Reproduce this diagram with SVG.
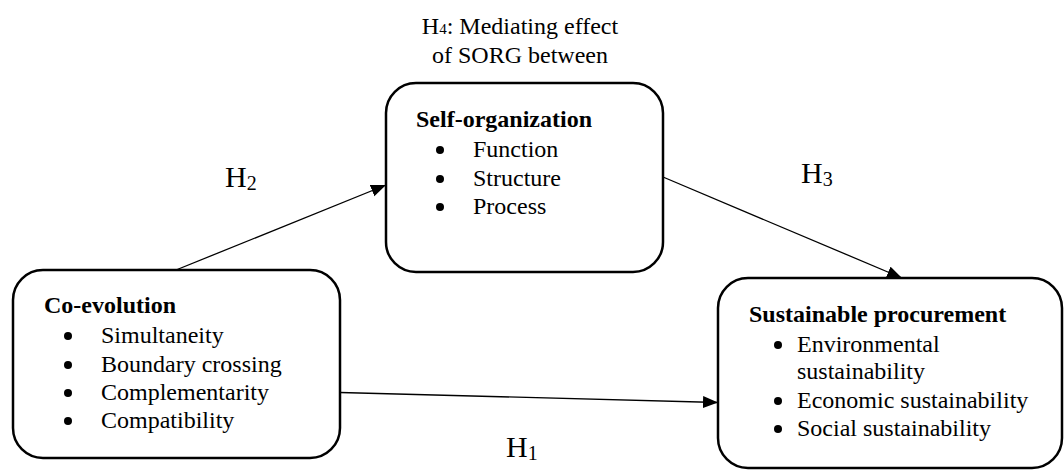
<svg xmlns="http://www.w3.org/2000/svg" width="1064" height="470" viewBox="0 0 1064 470" font-family="'Liberation Serif', 'Times New Roman', serif">
  <style>
    .box { fill: #ffffff; stroke: #000000; stroke-width: 2.5; }
    .txt { font-family: "Liberation Serif", "Times New Roman", serif; font-size: 24px; fill: #000000; }
    .bold { font-weight: bold; }
    .hyp { font-family: "Liberation Serif", "Times New Roman", serif; font-size: 30px; fill: #000000; }
    .bul { fill: #000000; }
    .conn { stroke: #000000; stroke-width: 1.3; fill: none; marker-end: url(#arr); }
  </style>
  <defs>
    <marker id="arr" markerUnits="userSpaceOnUse" markerWidth="16" markerHeight="13" refX="15" refY="6" orient="auto">
      <path d="M0,0 L15,6 L0,12 z" fill="#000000"/>
    </marker>
  </defs>
  <rect width="1064" height="470" fill="#ffffff"/>

  <g id="label-h4">
    <text class="txt" x="520" y="34" text-anchor="middle">H<tspan font-size="15">4</tspan>: Mediating effect</text>
    <text class="txt" x="520" y="63" text-anchor="middle">of SORG between</text>
  </g>

  <g id="connectors">
    <line class="conn" x1="176" y1="270" x2="386" y2="185"/>
    <line class="conn" x1="663" y1="177" x2="902" y2="278"/>
    <line class="conn" x1="340" y1="392.5" x2="718" y2="402.5"/>
  </g>

  <g id="label-h2">
    <text class="hyp" x="225" y="187">H<tspan font-size="20" dy="3">2</tspan></text>
  </g>
  <g id="label-h3">
    <text class="hyp" x="801" y="183">H<tspan font-size="20" dy="3">3</tspan></text>
  </g>
  <g id="label-h1">
    <text class="hyp" x="506" y="457">H<tspan font-size="20" dy="3">1</tspan></text>
  </g>

  <g id="node-self-organization">
    <rect class="box" x="386" y="83" width="277" height="189" rx="30" ry="30"/>
    <text class="txt bold" x="416" y="127">Self-organization</text>
    <circle class="bul" cx="440" cy="150" r="4"/>
    <text class="txt" x="473" y="157">Function</text>
    <circle class="bul" cx="440" cy="179" r="4"/>
    <text class="txt" x="473" y="186">Structure</text>
    <circle class="bul" cx="440" cy="207" r="4"/>
    <text class="txt" x="473" y="214">Process</text>
  </g>

  <g id="node-co-evolution">
    <rect class="box" x="13" y="270" width="327" height="188" rx="30" ry="30"/>
    <text class="txt bold" x="44" y="313">Co-evolution</text>
    <circle class="bul" cx="68" cy="336" r="4"/>
    <text class="txt" x="101" y="343">Simultaneity</text>
    <circle class="bul" cx="68" cy="365" r="4"/>
    <text class="txt" x="101" y="372">Boundary crossing</text>
    <circle class="bul" cx="68" cy="393" r="4"/>
    <text class="txt" x="101" y="400">Complementarity</text>
    <circle class="bul" cx="68" cy="421" r="4"/>
    <text class="txt" x="101" y="428">Compatibility</text>
  </g>

  <g id="node-sustainable-procurement">
    <rect class="box" x="718" y="278" width="344" height="190" rx="30" ry="30"/>
    <text class="txt bold" x="749" y="322">Sustainable procurement</text>
    <circle class="bul" cx="778" cy="345" r="4"/>
    <text class="txt" x="797" y="352">Environmental</text>
    <text class="txt" x="797" y="379">sustainability</text>
    <circle class="bul" cx="778" cy="401" r="4"/>
    <text class="txt" x="797" y="408">Economic sustainability</text>
    <circle class="bul" cx="778" cy="429" r="4"/>
    <text class="txt" x="797" y="436">Social sustainability</text>
  </g>
</svg>
